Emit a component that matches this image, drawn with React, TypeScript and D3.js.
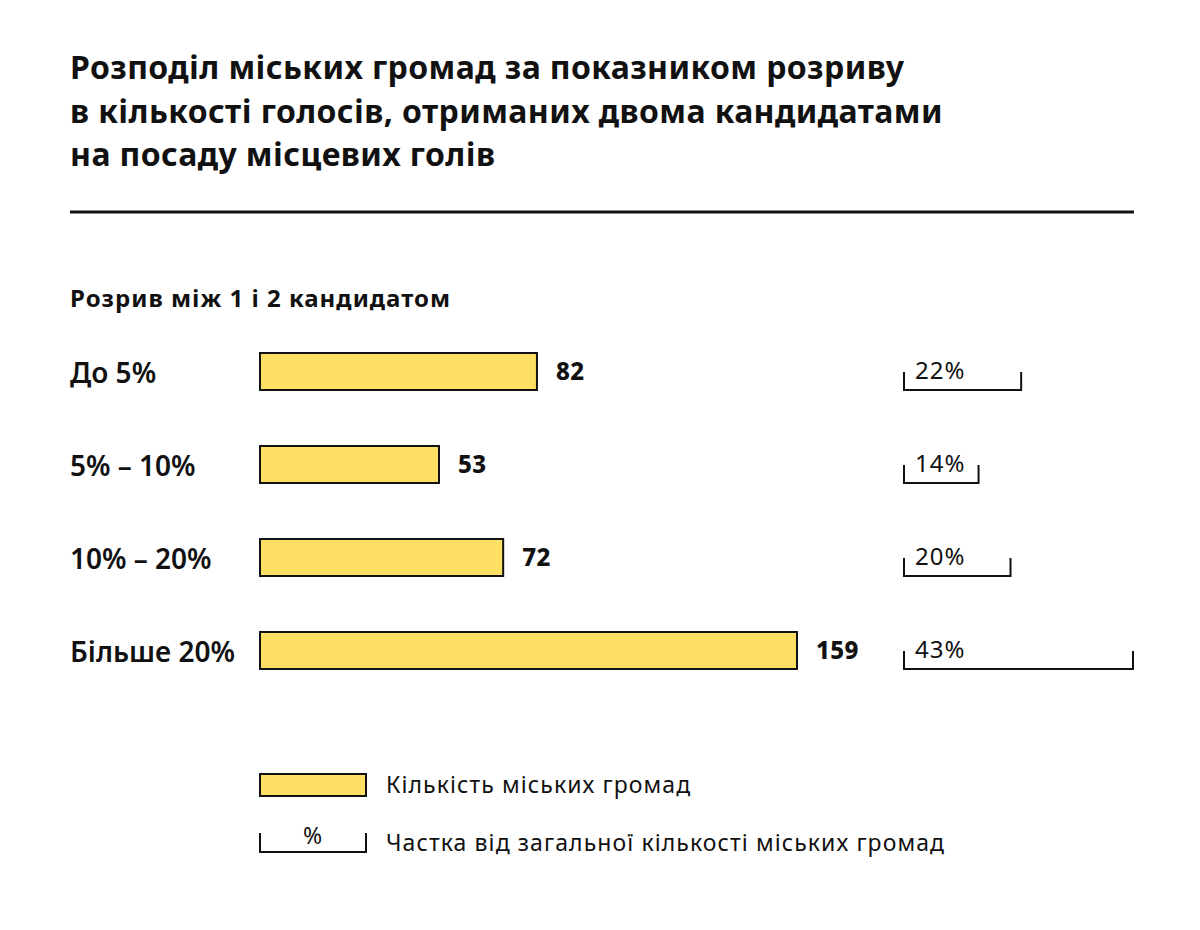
import { useEffect, useRef } from 'react'
import * as d3 from 'd3'

const titleLines = [
  'Розподіл міських громад за показником розриву',
  'в кількості голосів, отриманих двома кандидатами',
  'на посаду місцевих голів',
]
const subtitle = 'Розрив між 1 і 2 кандидатом'
const categories = ['До 5%', '5% – 10%', '10% – 20%', 'Більше 20%']
const counts = [82, 53, 72, 159]
const shares = [22, 14, 20, 43]
const legendLabels = ['Кількість міських громад', 'Частка від загальної кількості міських громад']

const FONT = '"Noto Sans", "Open Sans", sans-serif'
const YELLOW = '#fde063'

export default function App() {
  const ref = useRef<SVGSVGElement>(null)

  useEffect(() => {
    if (!ref.current) return
    const svg = d3.select(ref.current)
    svg.selectAll('*').remove()

    const W = 1200
    const H = 930

    svg.append('rect').attr('width', W).attr('height', H).attr('fill', '#fff')

    // Title
    svg.append('g')
      .selectAll('text')
      .data(titleLines)
      .join('text')
      .attr('x', 70)
      .attr('y', (_, i) => 79 + i * 43.5)
      .style('font-family', FONT)
      .style('font-size', '32px')
      .style('font-weight', 700)
      .style('letter-spacing', '0.4px')
      .style('fill', '#111')
      .text(d => d)

    svg.append('line')
      .attr('x1', 70).attr('x2', 1134)
      .attr('y1', 212).attr('y2', 212)
      .attr('stroke', '#111').attr('stroke-width', 3)

    svg.append('text')
      .attr('x', 70).attr('y', 307)
      .style('font-family', FONT)
      .style('font-size', '24px')
      .style('font-weight', 700)
      .style('letter-spacing', '1px')
      .style('fill', '#111')
      .text(subtitle)

    // Scales
    const x = d3.scaleLinear().domain([0, 159]).range([260, 797])
    const y = d3.scaleBand().domain(categories).range([353, 669]).paddingInner(56 / 93).paddingOuter(0)
    const pct = d3.scaleLinear().domain([0, 43]).range([904, 1133])
    const bh = y.bandwidth()

    const rows = svg.append('g')
      .selectAll('g')
      .data(categories)
      .join('g')
      .attr('transform', d => `translate(0,${y(d)})`)

    rows.append('text')
      .attr('x', 70).attr('y', bh / 2 + 11)
      .style('font-family', FONT)
      .style('font-size', '28px')
      .style('font-weight', 600)
      .style('fill', '#111')
      .text(d => d)

    rows.append('rect')
      .attr('x', x(0))
      .attr('y', 0)
      .attr('width', (_, i) => x(counts[i]) - x(0))
      .attr('height', bh)
      .attr('fill', YELLOW)
      .attr('stroke', '#111')
      .attr('stroke-width', 2)

    rows.append('text')
      .attr('x', (_, i) => x(counts[i]) + 19)
      .attr('y', bh / 2 + 8.5)
      .style('font-family', FONT)
      .style('font-size', '24px')
      .style('font-weight', 800)
      .style('letter-spacing', '0.4px')
      .style('fill', '#111')
      .text((_, i) => counts[i])

    // Share brackets
    const bracket = (g: d3.Selection<any, any, any, any>, x0: number, x1: number, yb: number, tick: number) =>
      g.append('path')
        .attr('d', `M${x0},${yb - tick}V${yb}H${x1}V${yb - tick}`)
        .attr('fill', 'none')
        .attr('stroke', '#111')
        .attr('stroke-width', 2)

    rows.each(function (_, i) {
      const g = d3.select(this)
      bracket(g, pct(0), pct(shares[i]), bh, 18)
      g.append('text')
        .attr('x', pct(0) + 11)
        .attr('y', bh - 11)
        .style('font-family', FONT)
        .style('font-size', '24px')
        .style('letter-spacing', '1px')
        .style('fill', '#111')
        .text(`${shares[i]}%`)
    })

    // Legend
    const legendText = (xx: number, yy: number, s: string, anchor = 'start') =>
      lg.append('text')
        .attr('x', xx).attr('y', yy).attr('text-anchor', anchor)
        .style('font-family', FONT).style('font-size', '23px')
        .style('letter-spacing', '1.1px').style('fill', '#111')
        .text(s)

    const lg = svg.append('g')
    lg.append('rect')
      .attr('x', 260).attr('y', 774).attr('width', 106).attr('height', 22)
      .attr('fill', YELLOW).attr('stroke', '#111').attr('stroke-width', 2)
    legendText(386, 793, legendLabels[0])
    bracket(lg, 260, 366, 852, 19)
    legendText(313, 844, '%', 'middle')
    legendText(386, 851, legendLabels[1])
  }, [])

  return (
    <div style={{ margin: -8 }}>
      <svg ref={ref} width={1200} height={930} style={{ display: 'block' }} />
    </div>
  )
}
